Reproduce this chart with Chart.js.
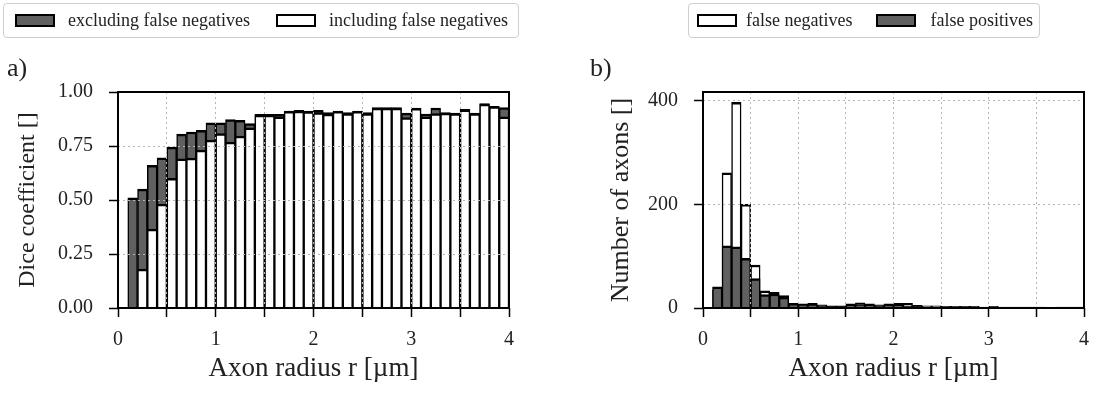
<!DOCTYPE html>
<html>
<head>
<meta charset="utf-8">
<script src="https://cdn.jsdelivr.net/npm/chart.js@4.4.0/dist/chart.umd.min.js"></script>
<style>
  body { margin: 0; background: #fff; font-family: "Liberation Serif", serif; color: #222; }
  #figura { position: relative; width: 1100px; height: 395px; overflow: hidden; }
  canvas { position: absolute; top: 0; }
  .leyenda { position: absolute; top: 3px; height: 35px; box-sizing: border-box; border: 1.5px solid #cfcfcf; border-radius: 4px;
             display: flex; align-items: center; font-size: 18px; white-space: nowrap; padding: 0 10px 0 11px; }
  .item { display: flex; align-items: center; }
  .item + .item { margin-left: 26px; }
  .muestra { display: inline-block; width: 40px; height: 13px; box-sizing: border-box; border: 2px solid #000; margin-right: 13px; }
  .oscuro { background: #606060; }
  .claro { background: #fff; }
  .panel { position: absolute; top: 53px; font-size: 26px; line-height: 30px; }
</style>
</head>
<body>
<div id="figura">
  <canvas id="graficoA" width="550" height="395" style="left:0"></canvas>
  <canvas id="graficoB" width="550" height="395" style="left:550px"></canvas>

  <div class="leyenda" style="left:3px">
    <span class="item"><span class="muestra oscuro"></span>excluding false negatives</span>
    <span class="item"><span class="muestra claro"></span>including false negatives</span>
  </div>
  <div class="leyenda" style="left:688px; padding: 0 6px 0 8px">
    <span class="item"><span class="muestra claro" style="margin-right:9px"></span>false negatives</span>
    <span class="item" style="margin-left:24px"><span class="muestra oscuro" style="margin-right:14px"></span>false positives</span>
  </div>
  <div class="panel" style="left:7px">a)</div>
  <div class="panel" style="left:590px">b)</div>
</div>

<script>
// centros de los intervalos de radio (ancho 0.1 µm)
const radioBins = [0.15, 0.25, 0.35, 0.45, 0.55, 0.65, 0.75, 0.85, 0.95,
                   1.05, 1.15, 1.25, 1.35, 1.45, 1.55, 1.65, 1.75, 1.85, 1.95,
                   2.05, 2.15, 2.25, 2.35, 2.45, 2.55, 2.65, 2.75, 2.85, 2.95,
                   3.05, 3.15, 3.25, 3.35, 3.45, 3.55, 3.65, 3.75, 3.85, 3.95];

// a) coeficiente de Dice
const diceSinFN = [0.51, 0.55, 0.66, 0.695, 0.745, 0.805, 0.815, 0.823, 0.857,
                   0.857, 0.872, 0.869, 0.854, 0.897, 0.897, 0.897, 0.912, 0.915, 0.912,
                   0.915, 0.905, 0.912, 0.905, 0.912, 0.905, 0.928, 0.928, 0.928, 0.902,
                   0.926, 0.898, 0.926, 0.905, 0.902, 0.92, 0.902, 0.946, 0.934, 0.928];
const diceConFN = [0.0, 0.18, 0.365, 0.481, 0.600, 0.691, 0.694, 0.731, 0.777,
                   0.808, 0.768, 0.796, 0.834, 0.893, 0.893, 0.885, 0.91, 0.912, 0.909,
                   0.905, 0.898, 0.91, 0.9, 0.91, 0.9, 0.925, 0.925, 0.925, 0.882,
                   0.924, 0.885, 0.90, 0.902, 0.90, 0.918, 0.90, 0.944, 0.932, 0.885];

// b) número de axones
const falsosNegativos = [35, 261, 397, 200, 83, 33, 30, 24, 9,
                         8, 9, 6, 4, 4, 8, 10, 8, 6, 8,
                         9, 9, 5, 4, 4, 3, 3, 3, 3, 2,
                         3, 2, 2, 2, 2, 2, 1, 2, 2, 2];
const falsosPositivos = [41, 120, 118, 96, 57, 26, 27, 21, 7,
                         6, 6, 4, 3, 3, 5, 6, 5, 4, 5,
                         5, 4, 3, 2, 2, 2, 1, 2, 2, 1,
                         2, 1, 1, 1, 1, 1, 1, 1, 1, 1];

// marcas de los ejes
const marcasX = [0, 0.5, 1, 1.5, 2, 2.5, 3, 3.5, 4];
const marcasDice = [0, 0.25, 0.5, 0.75, 1];
const marcasAxones = [0, 200, 400];

const fuente = "'Liberation Serif', serif";
const gris = '#606060';

// marco negro alrededor del area de dibujo
const marco = {
    id: 'marco',
    afterDraw(chart) {
        const a = chart.chartArea;
        const ctx = chart.ctx;
        ctx.save();
        ctx.strokeStyle = '#000';
        ctx.lineWidth = 2;
        ctx.strokeRect(a.left, a.top, a.right - a.left, a.bottom - a.top);
        ctx.restore();
    }
};

function ejeX() {
    return {
        type: 'linear',
        min: 0,
        max: 4,
        offset: false,
        afterBuildTicks: s => { s.ticks = marcasX.map(v => ({ value: v })); },
        afterFit: s => { s.height = 87; },
        grid: { offset: false, z: 1, color: '#b5b5b5', lineWidth: 1, tickLength: 9,
                tickColor: '#000', tickWidth: 1.5, tickBorderDash: [] },
        border: { display: false, dash: [2, 3] },
        ticks: {
            padding: 11, maxRotation: 0, autoSkip: false, color: '#222',
            font: { family: fuente, size: 20 },
            callback: v => Number.isInteger(v) ? String(v) : ''
        },
        title: { display: true, text: 'Axon radius r [µm]', color: '#222',
                 font: { family: fuente, size: 27 }, padding: { top: 0, bottom: 10 } }
    };
}

function ejeY(marcas, ancho, sepTitulo, titulo, tam, formato) {
    return {
        min: 0,
        max: marcas === marcasDice ? 1 : Math.max(...falsosNegativos) * 1.05,
        afterBuildTicks: s => { s.ticks = marcas.map(v => ({ value: v })); },
        afterFit: s => { s.width = ancho; },
        grid: { z: 1, color: '#b5b5b5', lineWidth: 1, tickLength: 9,
                tickColor: '#000', tickWidth: 1.5, tickBorderDash: [] },
        border: { display: false, dash: [2, 3] },
        ticks: { padding: 16, color: '#222', font: { family: fuente, size: 20 }, callback: formato },
        title: { display: true, text: titulo, color: '#222',
                 font: { family: fuente, size: tam }, padding: { top: sepTitulo, bottom: 0 } }
    };
}

const barras = { grouped: false, barPercentage: 1, categoryPercentage: 1,
                 borderColor: '#000', borderWidth: { top: 2.5, left: 1.5, right: 1.5, bottom: 0 } };

new Chart(document.getElementById('graficoA'), {
    type: 'bar',
    data: {
        labels: radioBins,
        datasets: [
            Object.assign({ label: 'including false negatives', data: diceConFN, backgroundColor: '#fff' }, barras),
            Object.assign({ label: 'excluding false negatives', data: diceSinFN, backgroundColor: gris }, barras)
        ]
    },
    options: {
        responsive: false,
        animation: false,
        devicePixelRatio: 1,
        layout: { padding: { top: 92, left: 0, right: 41, bottom: 0 } },
        plugins: { legend: { display: false }, tooltip: { enabled: false } },
        scales: {
            x: ejeX(),
            y: ejeY(marcasDice, 118, 13, 'Dice coefficient []', 24, v => v.toFixed(2))
        }
    },
    plugins: [marco]
});

new Chart(document.getElementById('graficoB'), {
    type: 'bar',
    data: {
        labels: radioBins,
        datasets: [
            Object.assign({ label: 'false positives', data: falsosPositivos, backgroundColor: gris }, barras),
            Object.assign({ label: 'false negatives', data: falsosNegativos, backgroundColor: '#fff' }, barras)
        ]
    },
    options: {
        responsive: false,
        animation: false,
        devicePixelRatio: 1,
        layout: { padding: { top: 92, left: 0, right: 7, bottom: 0 } },
        plugins: { legend: { display: false }, tooltip: { enabled: false } },
        scales: {
            x: ejeX(),
            y: ejeY(marcasAxones, 153, 56, 'Number of axons []', 26, v => String(v))
        }
    },
    plugins: [marco]
});
</script>
</body>
</html>
